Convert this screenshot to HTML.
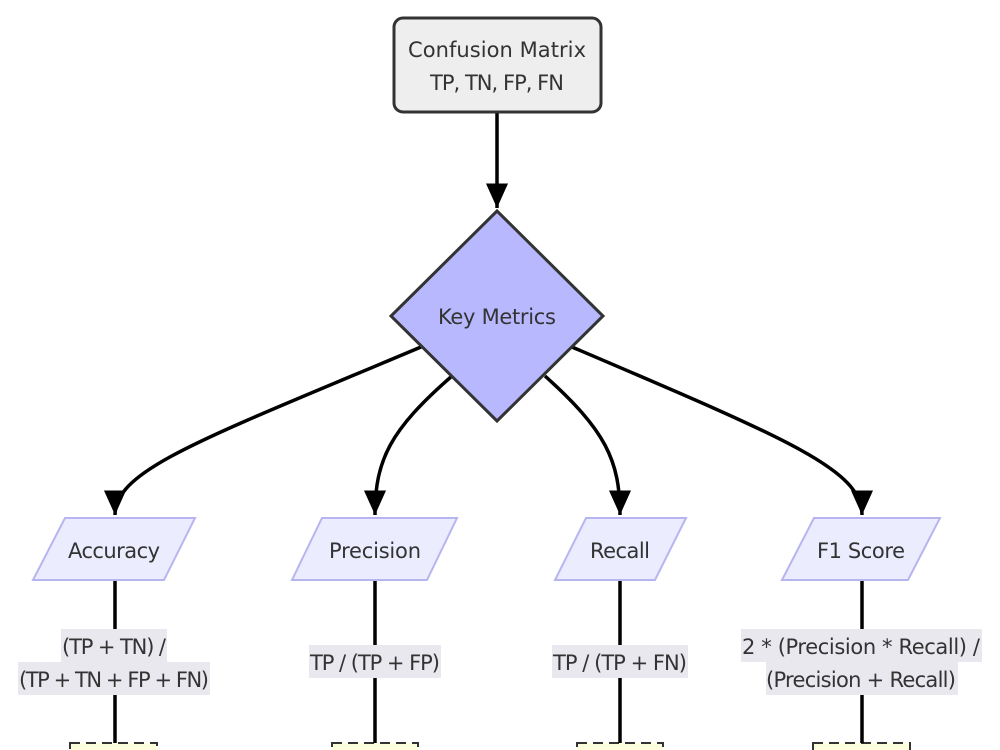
<!DOCTYPE html>
<html><head><meta charset="utf-8"><style>
html,body{margin:0;padding:0;background:#fff;}
svg{display:block;font-family:"DejaVu Sans","Liberation Sans",sans-serif;}
text{font-size:21px;fill:#333;text-anchor:middle;}
</style></head><body>
<svg width="1000" height="750" viewBox="0 0 1000 750">
<defs>
<marker id="b" viewBox="0 0 10 10" refX="10" refY="5" markerWidth="7" markerHeight="7" orient="auto"><path d="M0,0.5L10,5L0,9.5z" fill="#000"/></marker></defs>
<g fill="#ffffde" stroke="#333" stroke-width="2" stroke-dasharray="10,6">
<rect x="70" y="743" width="87" height="20"/><rect x="332" y="743" width="86" height="20"/>
<rect x="577" y="743" width="86" height="20"/><rect x="813" y="743" width="97" height="20"/>
</g>
<g stroke="#000" stroke-width="3.5" fill="none">
<path d="M497,113 L497,208" marker-end="url(#b)"/>
<path d="M421,347 C200,440 115,470 115,515" marker-end="url(#b)"/>
<path d="M452,376 C390,430 375,460 375,515" marker-end="url(#b)"/>
<path d="M545,376 C605,430 620,460 620,515" marker-end="url(#b)"/>
<path d="M572,347 C790,440 862,470 862,515" marker-end="url(#b)"/>
<path d="M115,580V743M375,580V743M620,580V743M862,580V743"/>
</g>
<rect x="394" y="18" width="207" height="94" rx="9" fill="#eee" stroke="#333" stroke-width="3"/>
<text x="497" y="57" textLength="178">Confusion Matrix</text><text x="497" y="90" textLength="134">TP, TN, FP, FN</text>
<polygon points="497,211 603,316 497,421 391,316" fill="#b8b8ff" stroke="#333" stroke-width="3"/>
<text x="497" y="324" textLength="118">Key Metrics</text>
<g fill="#ececff" stroke="#b7b5f0" stroke-width="2">
<polygon points="65,518 195,518 164,580 33,580"/>
<polygon points="322,518 457,518 427,580 292,580"/>
<polygon points="586,518 686,518 655,580 555,580"/>
<polygon points="814,518 940,518 908,580 782,580"/>
</g>
<text x="114" y="558" textLength="92">Accuracy</text><text x="375" y="558" textLength="92">Precision</text>
<text x="620" y="558" textLength="60">Recall</text><text x="861" y="558" textLength="88">F1 Score</text>
<g fill="#e8e8ee">
<rect x="61" y="629" width="106" height="33"/><rect x="18" y="662" width="192" height="33"/>
<rect x="309" y="645" width="132" height="33"/>
<rect x="552" y="645" width="136" height="33"/>
<rect x="741" y="629" width="241" height="33"/><rect x="766" y="662" width="192" height="33"/>
</g>
<text x="114" y="654" textLength="104">(TP + TN) /</text><text x="114" y="687" textLength="190">(TP + TN + FP + FN)</text>
<text x="375" y="670" textLength="130">TP / (TP + FP)</text>
<text x="620" y="670" textLength="134">TP / (TP + FN)</text>
<text x="861" y="654" textLength="238">2 * (Precision * Recall) /</text><text x="861" y="687" textLength="190">(Precision + Recall)</text>
</svg>
</body></html>
